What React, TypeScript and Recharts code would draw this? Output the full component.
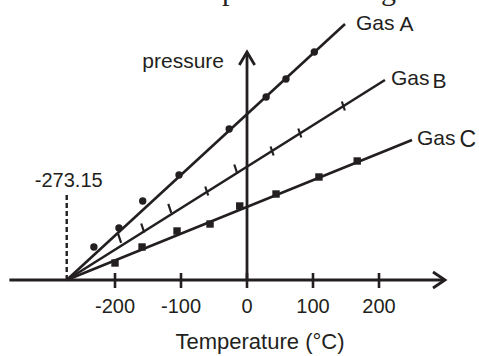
import { ScatterChart, Scatter, XAxis, YAxis } from 'recharts'

const INK = '#231f20'
const FONT = '"Liberation Sans", Arial, Helvetica, sans-serif'

// readings: temperature (°C) and pressure (arbitrary units)
const gasATemp = [-232, -194, -158, -103, -27, 29, 59, 102]
const gasAPres = [16.5, 26, 39.5, 52.5, 75.5, 91.5, 100.5, 114]
const gasBTemp = [-193, -158, -117, -61, -17, 38, 80, 146]
const gasBPres = [20.8, 26, 35.8, 44.5, 55.5, 64.5, 73.5, 87]
const gasCTemp = [-200, -159, -106, -56, -11, 44, 109, 167]
const gasCPres = [8.5, 16.5, 24.5, 28, 37, 43, 51.5, 59.5]

// extrapolated best-fit lines, all meeting at absolute zero
const absZero = -273.15
const gasNames = ['A', 'B', 'C']
const lineEndTemp = [148.5, 209, 250]
const lineEndPres = [128, 100, 70]

const tempTicks = [-200, -100, 0, 100, 200]
const tempDomain = [-360, 300]
const presDomain = [0, 130]
const presAxisTop = 114
const absZeroMarkTop = 43.5

const zip = (ts: number[], ps: number[]) => ts.map((t, i) => ({ t, p: ps[i] }))

// label placement relative to the end of each line
const labelOffset: Record<string, { dx: number; dy: number; subDy: number; subSize: number; gap: number }> = {
  A: { dx: 11, dy: 6, subDy: 0.5, subSize: 21, gap: 5 },
  B: { dx: 6, dy: 5, subDy: 3, subSize: 21, gap: 3 },
  C: { dx: 5, dy: 5, subDy: 2, subSize: 23, gap: 4 },
}

const dot = (p: any) => <circle cx={p.cx} cy={p.cy} r={3.7} fill={INK} />
const square = (p: any) => <rect x={p.cx - 3.7} y={p.cy - 3.7} width={7.4} height={7.4} fill={INK} />
const dash = (p: any) => (
  <line x1={p.cx - 1.5} y1={p.cy - 4.5} x2={p.cx + 1.5} y2={p.cy + 4.5} stroke={INK} strokeWidth={2.2} />
)

const lineEnd = (p: any) => {
  const name = p.payload?.name
  if (!name) return <g />
  const o = labelOffset[name]
  return (
    <text x={p.cx + o.dx} y={p.cy + o.dy} fontFamily={FONT} fontSize={21} fill={INK}>
      Gas
      <tspan dx={o.gap} dy={o.subDy} fontSize={o.subSize}>{name}</tspan>
    </text>
  )
}

function TempTick({ x, y, payload }: any) {
  return (
    <g>
      <line x1={x} x2={x} y1={y - 7} y2={y + 8} stroke={INK} strokeWidth={2.6} />
      <text x={x} y={y + 33} textAnchor="middle" fontFamily={FONT} fontSize={20} fill={INK}>
        {payload.value}
      </text>
    </g>
  )
}

export default function App() {
  const series = [
    { pts: zip(gasATemp, gasAPres), shape: dot },
    { pts: zip(gasBTemp, gasBPres), shape: dash },
    { pts: zip(gasCTemp, gasCPres), shape: square },
  ]
  const lines = gasNames.map((name, i) => [
    { t: absZero, p: 0 },
    { t: lineEndTemp[i], p: lineEndPres[i], name },
  ])

  return (
    <div style={{ position: 'absolute', left: 0, top: 0, width: 479, height: 356, background: '#fff' }}>
      <ScatterChart width={479} height={356} margin={{ top: 20, right: 34, bottom: 36, left: 9.4 }}>
        <XAxis
          dataKey="t"
          type="number"
          domain={tempDomain}
          ticks={tempTicks}
          height={40}
          tickSize={0}
          tickMargin={0}
          tickLine={false}
          axisLine={{ stroke: INK, strokeWidth: 2.8 }}
          tick={<TempTick />}
        />
        <YAxis dataKey="p" type="number" domain={presDomain} hide />

        {/* pressure axis */}
        <Scatter
          data={[{ t: 0, p: 0 }, { t: 0, p: presAxisTop }]}
          line={{ stroke: INK, strokeWidth: 2.8 }}
          isAnimationActive={false}
          shape={(p: any) =>
            p.payload.p > 0 ? (
              <g>
                <polyline points={`${p.cx - 7.7},${p.cy + 13} ${p.cx},${p.cy} ${p.cx + 7.7},${p.cy + 13}`}
                  fill="none" stroke={INK} strokeWidth={2.8} />
                <text x={p.cx - 23} y={p.cy + 16} textAnchor="end" fontFamily={FONT} fontSize={21} fill={INK}>
                  pressure
                </text>
              </g>
            ) : <g />
          }
        />
        {/* temperature axis arrow */}
        <Scatter
          data={[{ t: tempDomain[1], p: 0 }]}
          isAnimationActive={false}
          shape={(p: any) => (
            <polyline points={`${p.cx - 12},${p.cy - 8} ${p.cx},${p.cy} ${p.cx - 12},${p.cy + 8}`}
              fill="none" stroke={INK} strokeWidth={2.8} />
          )}
        />
        {/* absolute zero marker */}
        <Scatter
          data={[{ t: absZero, p: 0 }, { t: absZero, p: absZeroMarkTop }]}
          line={{ stroke: INK, strokeWidth: 2.4, strokeDasharray: '5 3' }}
          isAnimationActive={false}
          shape={(p: any) =>
            p.payload.p > 0 ? (
              <text x={p.cx + 2} y={p.cy - 6} textAnchor="middle" fontFamily={FONT} fontSize={20} fill={INK}>
                {absZero}
              </text>
            ) : <g />
          }
        />

        {lines.map((d, i) => (
          <Scatter key={'l' + i} data={d} line={{ stroke: INK, strokeWidth: 2.6 }}
            shape={lineEnd} isAnimationActive={false} />
        ))}
        {series.map((s, i) => (
          <Scatter key={'s' + i} data={s.pts} shape={s.shape} isAnimationActive={false} />
        ))}
      </ScatterChart>

      <svg width={479} height={356} style={{ position: 'absolute', left: 0, top: 0, pointerEvents: 'none' }}>
        <text x={17} y={0} fontFamily='"Liberation Serif", "Times New Roman", serif' fontSize={30} fill={INK}>
          Pressure and temperature of a gas
        </text>
        <text x={260} y={349} textAnchor="middle" fontFamily={FONT} fontSize={22} fill={INK}>
          Temperature (°C)
        </text>
      </svg>
    </div>
  )
}
